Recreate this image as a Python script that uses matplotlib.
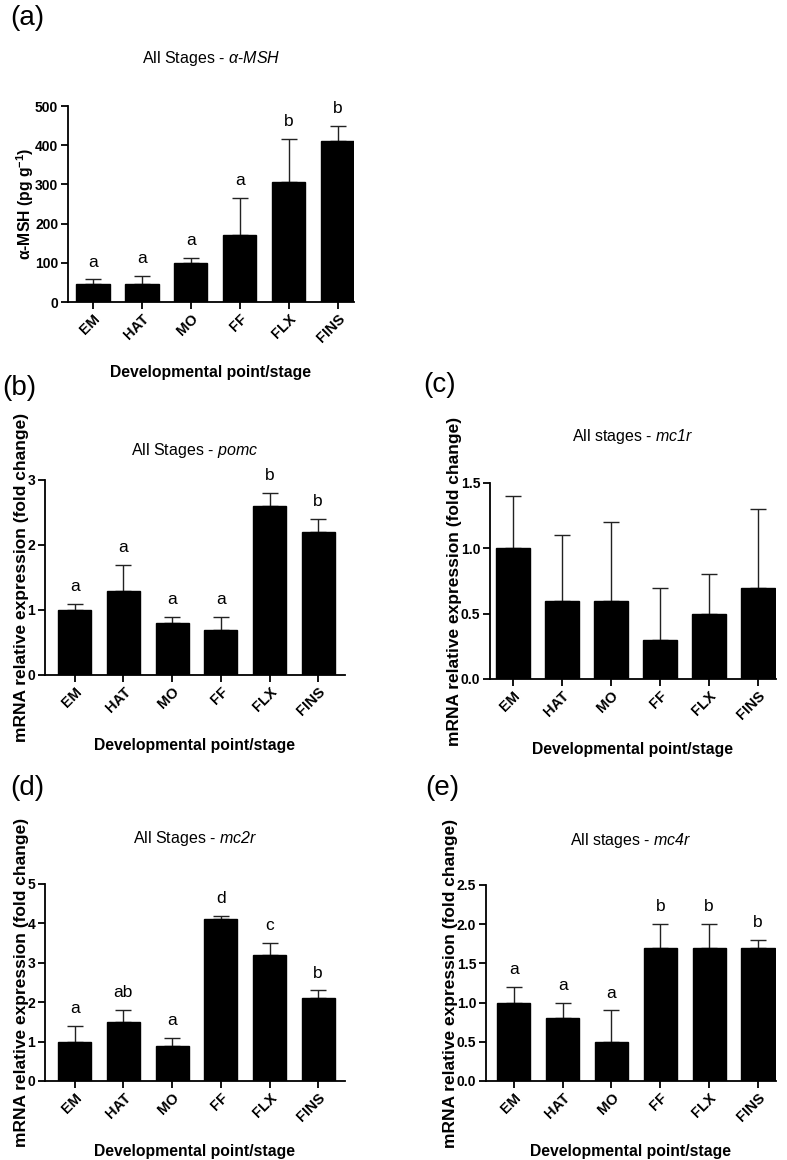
import numpy as np
import matplotlib
matplotlib.use("Agg")
import matplotlib.pyplot as plt

plt.rcParams["font.family"] = ["Liberation Sans", "DejaVu Sans"]
plt.rcParams["mathtext.fontset"] = "custom"
plt.rcParams["mathtext.rm"] = "Liberation Sans:italic"   # so digits in gene names come out italic
plt.rcParams["mathtext.it"] = "Liberation Sans:italic"
plt.rcParams["mathtext.bf"] = "Liberation Sans:bold"

stages = ["EM", "HAT", "MO", "FF", "FLX", "FINS"]

msh_mean = [45, 45, 100, 172, 307, 410]
msh_err = [13, 21, 13, 94, 110, 40]
msh_sig = ["a", "a", "a", "a", "b", "b"]

pomc_mean = [1.0, 1.3, 0.8, 0.7, 2.6, 2.2]
pomc_err = [0.1, 0.4, 0.1, 0.2, 0.2, 0.2]
pomc_sig = ["a", "a", "a", "a", "b", "b"]

mc1r_mean = [1.0, 0.6, 0.6, 0.3, 0.5, 0.7]
mc1r_err = [0.4, 0.5, 0.6, 0.4, 0.3, 0.6]
mc1r_sig = None

mc2r_mean = [1.0, 1.5, 0.9, 4.1, 3.2, 2.1]
mc2r_err = [0.4, 0.3, 0.2, 0.1, 0.3, 0.2]
mc2r_sig = ["a", "ab", "a", "d", "c", "b"]

mc4r_mean = [1.0, 0.8, 0.5, 1.7, 1.7, 1.7]
mc4r_err = [0.2, 0.2, 0.4, 0.3, 0.3, 0.1]
mc4r_sig = ["a", "a", "a", "b", "b", "b"]

W, H = 787, 1160
fig = plt.figure(figsize=(W / 100, H / 100), dpi=100)

MRNA = "mRNA relative expression (fold change)"

# (label, mean, err, sig, title, ylabel, ylim, yticks, fmt, box px [l, top, r, bottom], xlim, title y px, label xy px)
panels = [
    ("(a)", msh_mean, msh_err, msh_sig, r"All Stages - $\mathit{\alpha}$-$\mathit{MSH}$",
     r"α-MSH (pg g$^{\mathbf{-1}}$)", (0, 500), [0, 100, 200, 300, 400, 500], "{:.0f}",
     [68, 106, 354, 302], (-0.51, 5.335), 58, (10, 18)),
    ("(b)", pomc_mean, pomc_err, pomc_sig, r"All Stages - $\mathit{pomc}$",
     MRNA, (0, 3), [0, 1, 2, 3], "{:.0f}",
     [45, 480, 345, 675], (-0.61, 5.55), 450, (2, 388)),
    ("(c)", mc1r_mean, mc1r_err, mc1r_sig, r"All stages - $\mathit{mc1r}$",
     MRNA, (0, 1.5), [0, 0.5, 1.0, 1.5], "{:.1f}",
     [490, 483, 776, 679], (-0.47, 5.37), 437, (423, 385)),
    ("(d)", mc2r_mean, mc2r_err, mc2r_sig, r"All Stages - $\mathit{mc2r}$",
     MRNA, (0, 5), [0, 1, 2, 3, 4, 5], "{:.0f}",
     [45, 884, 345, 1081], (-0.61, 5.55), 838, (10, 788)),
    ("(e)", mc4r_mean, mc4r_err, mc4r_sig, r"All stages - $\mathit{mc4r}$",
     MRNA, (0, 2.5), [0, 0.5, 1.0, 1.5, 2.0, 2.5], "{:.1f}",
     [486, 885, 776, 1081], (-0.57, 5.37), 840, (425, 788)),
]

for lab, mean, err, sig, title, ylab, ylim, yt, fmt, box, xlim, ty, lxy in panels:
    l, t, r, b = box
    ax = fig.add_axes([l / W, 1 - b / H, (r - l) / W, (b - t) / H])
    x = np.arange(len(stages))
    ax.bar(x, mean, width=0.68, color="black", edgecolor="black", zorder=2)
    ax.errorbar(x, mean, yerr=[np.zeros(len(err)), err], fmt="none",
                ecolor="#222222", elinewidth=1.0, capsize=6, capthick=1.0, zorder=1)
    ax.set_xlim(*xlim)
    ax.set_ylim(*ylim)
    ax.set_yticks(yt)
    ax.set_yticklabels([fmt.format(v) for v in yt], fontsize=10, fontweight="bold")
    ax.set_xticks(x)
    ax.set_xticklabels(stages, rotation=45, ha="right", rotation_mode="anchor",
                       fontsize=10.5, fontweight="bold")
    for s in ["top", "right"]:
        ax.spines[s].set_visible(False)
    for s in ["left", "bottom"]:
        ax.spines[s].set_linewidth(1.3)
    ax.tick_params(axis="both", direction="out", width=1.3, length=5, pad=2)
    ax.set_xlabel("Developmental point/stage", fontsize=11.3, fontweight="bold", labelpad=14)
    ax.set_ylabel(ylab, fontsize=12.5 if ylab == MRNA else 11.3, fontweight="bold", labelpad=-1)
    if sig is not None:
        for xi, m, e, s in zip(x, mean, err, sig):
            ax.annotate(s, (xi, m + e), xytext=(0, 7), textcoords="offset points",
                        ha="center", va="bottom", fontsize=12.5)
    fig.text(((l + r) / 2) / W, 1 - ty / H, title, ha="center", va="center", fontsize=11.5)
    fig.text(lxy[0] / W, 1 - lxy[1] / H, lab, ha="left", va="center", fontsize=20)

fig.savefig("out.png", dpi=100)
